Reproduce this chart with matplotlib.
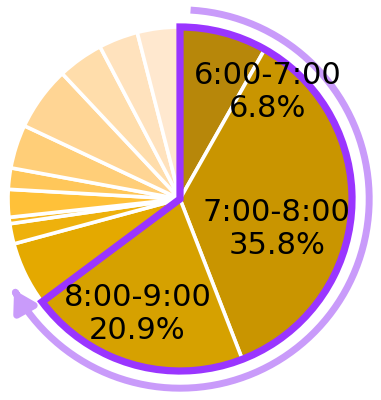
import numpy as np
import matplotlib
matplotlib.use("Agg")
import matplotlib.pyplot as plt
from matplotlib.patches import Wedge, FancyArrowPatch
from matplotlib.path import Path

# ---------------- data ----------------
hours = ["6:00-7:00", "7:00-8:00", "8:00-9:00", "9:00-10:00", "10:00-11:00",
         "11:00-12:00", "12:00-13:00", "13:00-14:00", "14:00-15:00",
         "15:00-16:00", "16:00-17:00", "17:00-18:00", "18:00-19:00"]
shares = [8.2, 35.9, 20.7, 6.0, 1.9, 0.6, 2.6, 2.0, 4.1, 6.0, 4.3, 3.7, 4.0]
shown_pct = ["6.8%", "35.8%", "20.9%"]
n_highlight = 3

# ---------------- style ----------------
colors = ["#B7870A", "#C99500", "#D6A100", "#E4A900", "#EEB10C", "#F8B820",
          "#FFC139", "#FFC75A", "#FFCE78", "#FFD594", "#FFDDAB", "#FFE2BD",
          "#FFE8CF"]
purple = "#9A35FF"
light_purple = "#C99BFA"
label_xy = [(0.509, 0.622), (0.562, -0.174), (-0.247, -0.669)]

W, H, DPI = 381, 400, 100
cx_px, cy_px, r_px = 180, 199, 172

fig = plt.figure(figsize=(W / DPI, H / DPI), dpi=DPI)
ax = fig.add_axes([0, 0, 1, 1])

ax.pie(shares, colors=colors, startangle=90, counterclock=False,
       wedgeprops=dict(edgecolor="white", linewidth=2.6))

total = float(sum(shares))
end_deg = sum(shares[:n_highlight]) / total * 360.0

# highlight outline of the first group of slices
hl = Wedge((0, 0), 1.0, 90 - end_deg, 90, fill=False, edgecolor=purple,
           linewidth=5.2, joinstyle="miter", zorder=5)
ax.add_patch(hl)

# arc arrow around the highlighted group
R_arc = 1.10
theta = np.radians(np.linspace(3.2, end_deg + 8.0, 300))
pts = np.column_stack([R_arc * np.sin(theta), R_arc * np.cos(theta)])
arrow = FancyArrowPatch(path=Path(pts),
                        arrowstyle="-|>,head_length=0.6,head_width=0.36",
                        mutation_scale=20, color=light_purple, linewidth=5,
                        capstyle="butt", zorder=4)
ax.add_patch(arrow)

for i in range(n_highlight):
    x, y = label_xy[i]
    ax.text(x, y, f"{hours[i]}\n{shown_pct[i]}", ha="center", va="center",
            fontsize=22, color="black", linespacing=1.2, zorder=6,
            family="DejaVu Sans")

ax.set_xlim(-cx_px / r_px, (W - cx_px) / r_px)
ax.set_ylim(-(H - cy_px) / r_px, cy_px / r_px)
ax.set_aspect("auto")
ax.axis("off")

fig.savefig("out.png", dpi=DPI)
